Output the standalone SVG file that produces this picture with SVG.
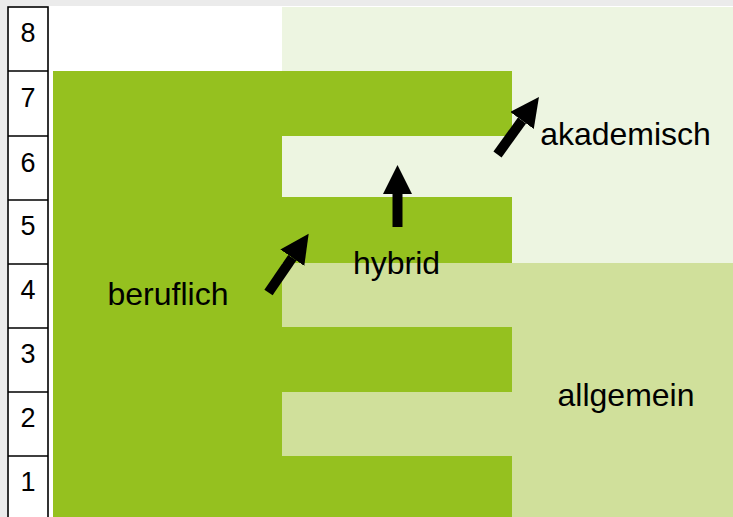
<svg xmlns="http://www.w3.org/2000/svg" width="733" height="517" viewBox="0 0 733 517">
  <defs>
    <style>
      .lbl { font-family: "Liberation Sans", Arial, sans-serif; font-size: 32px; fill: #000; text-anchor: middle; }
      .num { font-family: "Liberation Sans", Arial, sans-serif; font-size: 27px; fill: #000; text-anchor: middle; }
      .grid { stroke: #000; stroke-width: 1.6; fill: none; }
      .arrow { stroke: #000; stroke-width: 10; fill: none; marker-end: url(#head); }
    </style>
    <marker id="head" markerUnits="userSpaceOnUse" markerWidth="30" markerHeight="30" refX="0" refY="14.5" orient="auto" viewBox="0 0 30 30">
      <path d="M0,0 L29,14.5 L0,29 Z" fill="#000"/>
    </marker>
  </defs>
  <rect x="0" y="0" width="733" height="517" fill="#ebebeb"/>
  <rect x="7" y="6" width="726" height="511" fill="#ffffff"/>

  <g id="akademisch">
    <rect x="282" y="7" width="451" height="256" fill="#edf5e1"/>
    <text class="lbl" x="625.5" y="145">akademisch</text>
  </g>
  <g id="allgemein">
    <rect x="282" y="263" width="451" height="254" fill="#d0e09b"/>
    <text class="lbl" x="626" y="406">allgemein</text>
  </g>
  <g id="beruflich">
    <path d="M53,71 H512 V136 H282 V197 H512 V263 H282 V327 H512 V392 H282 V456 H512 V517 H53 Z" fill="#95c11f"/>
    <text class="lbl" x="168" y="305">beruflich</text>
  </g>
  <g id="hybrid">
    <text class="lbl" x="396.5" y="274">hybrid</text>
  </g>

  <g id="scale">
    <rect x="8" y="7" width="40" height="515" fill="#ffffff" class="grid"/>
    <path class="grid" d="M8,71 H48 M8,136 H48 M8,200 H48 M8,264 H48 M8,328 H48 M8,392 H48 M8,456 H48"/>
    <text class="num" x="28" y="42">8</text>
    <text class="num" x="28" y="107">7</text>
    <text class="num" x="28" y="172">6</text>
    <text class="num" x="28" y="235">5</text>
    <text class="num" x="28" y="299">4</text>
    <text class="num" x="28" y="363">3</text>
    <text class="num" x="28" y="427">2</text>
    <text class="num" x="28" y="491">1</text>
  </g>

  <g id="connectors">
    <line class="arrow" x1="268.5" y1="292.5" x2="292.3" y2="257.7"/>
    <line class="arrow" x1="397.5" y1="227" x2="397.5" y2="194"/>
    <line class="arrow" x1="497.5" y1="154.5" x2="522" y2="120.5"/>
  </g>
</svg>
